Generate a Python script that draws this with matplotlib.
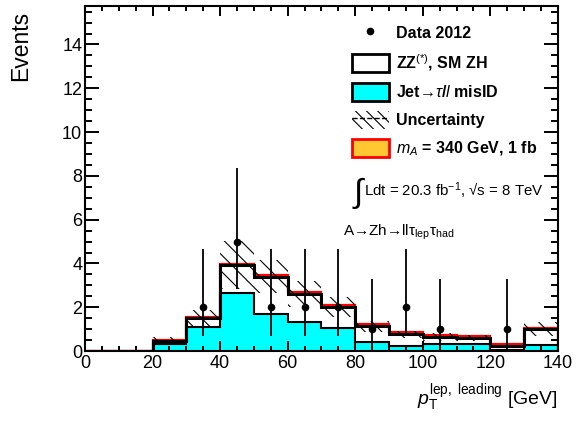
import numpy as np
import matplotlib
matplotlib.use("Agg")
import matplotlib.pyplot as plt
from matplotlib.lines import Line2D
from matplotlib.patches import Patch
from matplotlib.ticker import MultipleLocator

plt.rcParams['font.family'] = ['Liberation Sans', 'DejaVu Sans']
plt.rcParams['mathtext.fontset'] = 'custom'
plt.rcParams['mathtext.rm'] = 'Liberation Sans'
plt.rcParams['mathtext.it'] = 'Liberation Sans:italic'
plt.rcParams['mathtext.bf'] = 'Liberation Sans:bold'
plt.rcParams['hatch.linewidth'] = 0.8

# binning of leading lepton pT [GeV]
edges = np.arange(0, 150, 10)
centers = edges[:-1] + 5

# stacked backgrounds
jet_misid = [0, 0, 0.32, 1.11, 2.63, 1.69, 1.33, 1.04, 0.43, 0.24, 0.32, 0.32, 0.05, 0.27]
zz_smzh = [0, 0, 0.15, 0.38, 1.30, 1.70, 1.27, 0.96, 0.71, 0.52, 0.33, 0.28, 0.17, 0.73]
signal = [0, 0, 0.02, 0.05, 0.05, 0.08, 0.10, 0.10, 0.10, 0.12, 0.10, 0.10, 0.10, 0.07]
syst = [0, 0, 0.18, 0.38, 1.10, 0.75, 0.60, 0.45, 0.25, 0.15, 0.17, 0.15, 0.03, 0.32]

# data with poisson errors
data = [0, 0, 0, 2, 5, 2, 2, 2, 1, 2, 1, 0, 1, 0]
err_lo = [0, 0, 0, 1.29, 2.16, 1.29, 1.29, 1.29, 0.83, 1.29, 0.83, 0, 0.83, 0]
err_hi = [0, 0, 0, 2.64, 3.38, 2.64, 2.64, 2.64, 2.30, 2.64, 2.30, 0, 2.30, 0]

jet = np.array(jet_misid)
bkg = jet + np.array(zz_smzh)
tot = bkg + np.array(signal)
unc = np.array(syst)

fig = plt.figure(figsize=(5.86, 4.23), dpi=100)
ax = fig.add_axes([0.145, 0.170, 0.807, 0.8165])

ax.stairs(jet, edges, fill=True, color='#00ffff', zorder=1)
ax.stairs(bkg, edges, baseline=jet, fill=True, color='white', zorder=1)
ax.stairs(tot, edges, baseline=bkg, fill=True, color='#ffc832', zorder=1)
ax.stairs(jet, edges, color='k', lw=1.5, zorder=2)
ax.stairs(tot, edges, color='red', lw=1.6, zorder=2)
ax.stairs(bkg, edges, color='k', lw=2.2, zorder=3)

# uncertainty band
ax.stairs(bkg + unc, edges, baseline=bkg - unc, fill=True, facecolor='none',
          edgecolor='k', hatch='\\\\', lw=0, zorder=4)

d = np.array(data)
m = d > 0
ax.errorbar(centers[m], d[m], yerr=[np.array(err_lo)[m], np.array(err_hi)[m]],
            fmt='o', color='k', ms=4.5, elinewidth=1.3, capsize=0, zorder=5)

ax.set_xlim(0, 140)
ax.set_ylim(0, 15.77)
ax.xaxis.set_major_locator(MultipleLocator(20))
ax.xaxis.set_minor_locator(MultipleLocator(5))
ax.yaxis.set_major_locator(MultipleLocator(2))
ax.yaxis.set_minor_locator(MultipleLocator(0.5))
ax.set_yticks(np.arange(0, 16, 2))
ax.tick_params(which='both', direction='in', top=True, right=True, width=1.4,
               labelsize=13, zorder=10)
ax.tick_params(axis='x', which='major', length=7.5, pad=3)
ax.tick_params(axis='x', which='minor', length=3.8)
ax.tick_params(axis='y', which='major', length=10, pad=2)
ax.tick_params(axis='y', which='minor', length=5)
for s in ax.spines.values():
    s.set_linewidth(1.5)
    s.set_zorder(10)
ax.set_axisbelow(False)

fig.text(0.035, 1 - 11 / 423, 'Events', rotation=90, va='top', ha='center', fontsize=16.5)
fig.text(558 / 586, 1 - 405 / 423, r'$p_{\mathrm{T}}^{\mathrm{lep,\ leading}}$ [GeV]',
         ha='right', va='baseline', fontsize=14)

handles = [
    Line2D([], [], marker='o', color='k', ls='none', ms=4.5),
    Patch(facecolor='white', edgecolor='k', lw=2),
    Patch(facecolor='#00ffff', edgecolor='k', lw=2),
    (Patch(facecolor='none', edgecolor='k', hatch='\\\\\\', lw=0),
     Line2D([], [], color='k', ls='--', lw=1)),
    Patch(facecolor='#ffc832', edgecolor='red', lw=2),
]
labels = ['Data 2012', 'ZZ$^{(*)}$, SM ZH', 'Jet\u2192$\\tau$/$l$ misID',
          'Uncertainty', r'$m_A$ = 340 GeV, 1 fb']
leg = fig.legend(handles, labels, loc='upper left', bbox_to_anchor=(352 / 586, 1 - 24 / 423),
                 frameon=False, prop={'weight': 'bold', 'size': 11.5},
                 handlelength=2.3, handleheight=1.3, labelspacing=0.66,
                 handletextpad=0.45, borderpad=0, borderaxespad=0)

fig.text(352 / 586, 1 - 193 / 423, r'$\int$', fontsize=24, va='center', ha='left',
         family='DejaVu Sans')
fig.text(364 / 586, 1 - 191 / 423, 'Ldt = 20.3 fb$^{-1}$, \u221as = 8 TeV',
         fontsize=10.8, va='center', ha='left')
fig.text(343 / 586, 1 - 232 / 423, 'A\u2192Zh\u2192ll\u03c4$_{\\mathrm{lep}}$\u03c4$_{\\mathrm{had}}$',
         fontsize=11, va='center', ha='left')

fig.savefig('out.png', dpi=100)
